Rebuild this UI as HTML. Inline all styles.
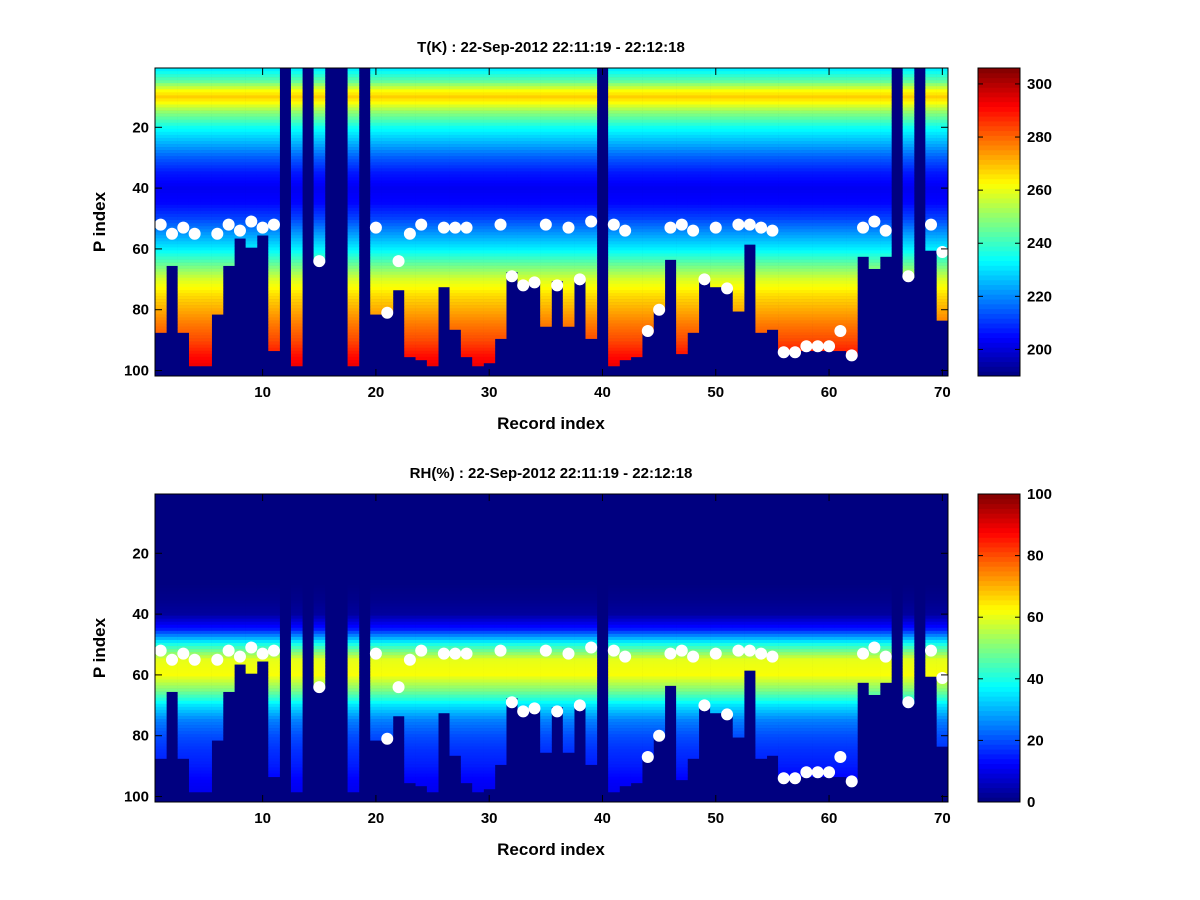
<!DOCTYPE html>
<html><head><meta charset="utf-8"><style>
body{margin:0;background:#fff;}
svg{display:block;font-family:"Liberation Sans",sans-serif;font-weight:bold;}
</style></head><body>
<svg id="fig" width="1200" height="900" viewBox="0 0 1200 900" xmlns="http://www.w3.org/2000/svg"></svg>
<script>
// ---- data ----
const records = Array.from({length:70},(_,i)=>i+1);
const dotRecords = [1,2,3,4,6,7,8,9,10,11,15,20,21,22,23,24,26,27,28,31,32,33,34,35,36,37,38,39,41,42,44,45,46,47,48,49,50,51,52,53,54,55,56,57,58,59,60,61,62,63,64,65,67,69,70];
const dotLevels  = [52,55,53,55,55,52,54,51,53,52,64,53,81,64,55,52,53,53,53,52,69,72,71,52,72,53,70,51,52,54,87,80,53,52,54,70,53,73,52,52,53,54,94,94,92,92,92,87,95,53,51,54,69,52,61];
const bottomLevels = [87,65,87,98,98,81,65,56,59,55,93,0,98,0,64,0,0,98,0,81,80,73,95,96,98,72,86,95,98,97,89,67,72,70,85,70,85,69,89,0,98,96,95,87,80,63,94,87,70,72,72,80,58,87,86,93,93,93,93,93,93,95,62,66,62,0,69,0,60,83];
const profLevels = [1,5,8,10,12,15,20,25,30,35,40,45,50,55,60,65,70,75,80,85,90,95,101];
const tempProfile = [232,245,262,268,262,250,235,225,215,207,203,205,212,222,232,245,258,266,272,278,283,290,296];
const rhProfile   = [0,0,0,0,0,0,0,0,0,1,3,15,40,60,62,50,35,25,20,17,15,12,10];
const tTicks = [200,220,240,260,280,300];
const rhTicks = [0,20,40,60,80,100];
const xTicks = [10,20,30,40,50,60,70];
const yTicks = [20,40,60,80,100];

const NS="http://www.w3.org/2000/svg";
const svg=document.getElementById('fig');
function mk(tag,attrs,parent){const e=document.createElementNS(NS,tag);for(const k in attrs)e.setAttribute(k,attrs[k]);(parent||svg).appendChild(e);return e;}
function jet(t){t=Math.max(0,Math.min(1,t));
 const r=Math.max(0,Math.min(1,1.5-Math.abs(4*t-3))),g=Math.max(0,Math.min(1,1.5-Math.abs(4*t-2))),b=Math.max(0,Math.min(1,1.5-Math.abs(4*t-1)));
 return `rgb(${Math.round(r*255)},${Math.round(g*255)},${Math.round(b*255)})`;}
function interp(lv,prof){for(let i=0;i<profLevels.length-1;i++){if(lv<=profLevels[i+1]){const f=(lv-profLevels[i])/(profLevels[i+1]-profLevels[i]);return prof[i]+f*(prof[i+1]-prof[i]);}}return prof[prof.length-1];}

function panel(y0,title,prof,cmin,cmax,cTicks,nm){
 const X0=155,X1=948,Y0=y0,Y1=y0+308;
 const xs=r=>X0+(r-0.5)/70*(X1-X0);
 const ys=l=>Y0+(l-0.5)/101.3*(Y1-Y0);
 const g=mk('g',{});
 
 
 mk('rect',{x:X0,y:Y0,width:X1-X0,height:Y1-Y0,fill:jet(0)},g);
 records.forEach((r,i)=>{
  const bot=bottomLevels[i];
  for(let l=1;l<=bot;l++){
   const v=interp(l,prof);
   const c=mk('rect',{x:xs(r-0.5),y:ys(l-0.5),width:xs(r+0.5)-xs(r-0.5)+0.3,height:ys(l+0.5)-ys(l-0.5)+0.3,fill:jet((v-cmin)/(cmax-cmin))},g);
   
   
  }
 });
 dotRecords.forEach((r,i)=>{
  const d=mk('circle',{cx:xs(r),cy:ys(dotLevels[i]),r:6,fill:'#fff'});
  
  
 });
 mk('rect',{x:X0,y:Y0,width:X1-X0,height:Y1-Y0,fill:'none',stroke:'#000','stroke-width':1});
 xTicks.forEach(t=>{const x=xs(t);mk('line',{x1:x,x2:x,y1:Y1,y2:Y1-7,stroke:'#000'});mk('line',{x1:x,x2:x,y1:Y0,y2:Y0+7,stroke:'#000'});
  const tx=mk('text',{x:x,y:Y1+21,'text-anchor':'middle','font-size':15});tx.textContent=t;
  });
 yTicks.forEach(t=>{const y=ys(t);mk('line',{x1:X0,x2:X0+7,y1:y,y2:y,stroke:'#000'});mk('line',{x1:X1,x2:X1-7,y1:y,y2:y,stroke:'#000'});
  const tx=mk('text',{x:X0-6,y:y+5,'text-anchor':'end','font-size':15});tx.textContent=t;
  });
 let t=mk('text',{x:551,y:Y0-16,'text-anchor':'middle','font-size':15});t.textContent=title;
 
 t=mk('text',{x:551,y:Y1+53,'text-anchor':'middle','font-size':17});t.textContent='Record index';
 
 t=mk('text',{x:105,y:(Y0+Y1)/2,'text-anchor':'middle','font-size':17,transform:`rotate(-90 105 ${(Y0+Y1)/2})`});t.textContent='P index';
 
 // colorbar
 const C0=978,C1=1020;
 const cb=mk('g',{});
 
 const n=64;for(let k=0;k<n;k++){const y=Y1-(k+1)*(Y1-Y0)/n;mk('rect',{x:C0,y:y,width:C1-C0,height:(Y1-Y0)/n+0.5,fill:jet((k+0.5)/n)},cb);}
 mk('rect',{x:C0,y:Y0,width:C1-C0,height:Y1-Y0,fill:'none',stroke:'#000'},cb);
 cTicks.forEach(v=>{const y=Y1-(v-cmin)/(cmax-cmin)*(Y1-Y0);
  mk('line',{x1:C0,x2:C0+5,y1:y,y2:y,stroke:'#000'},cb);mk('line',{x1:C1,x2:C1-5,y1:y,y2:y,stroke:'#000'},cb);
  const tx=mk('text',{x:C1+7,y:y+5,'font-size':15},cb);tx.textContent=v;
  });
}
panel(68,'T(K) : 22-Sep-2012 22:11:19 - 22:12:18',tempProfile,190,306,tTicks,'temperature');
panel(494,'RH(%) : 22-Sep-2012 22:11:19 - 22:12:18',rhProfile,0,100,rhTicks,'humidity');
</script>
</body></html>
